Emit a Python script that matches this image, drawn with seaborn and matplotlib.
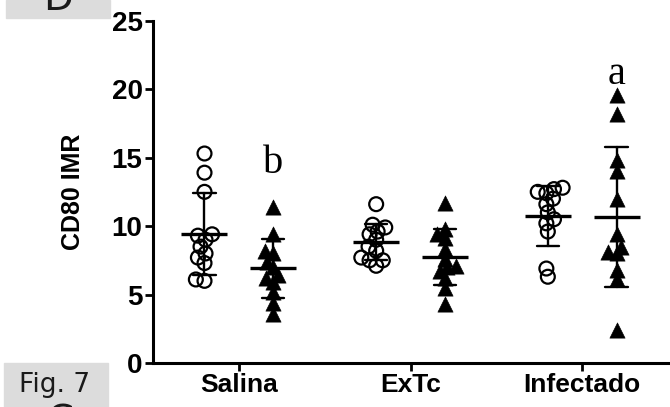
import numpy as np
import pandas as pd
import matplotlib
matplotlib.use("Agg")
import matplotlib.pyplot as plt
import seaborn as sns
from matplotlib.patches import Rectangle

# ---------------- data ----------------
categories = ["Salina", "ExTc", "Infectado"]
series_names = ["open", "filled"]

salina_open = [15.3, 13.9, 12.5, 9.4, 9.3, 9.0, 8.5, 8.0, 7.7, 7.3, 6.0, 6.1]
salina_filled = [11.4, 9.4, 8.2, 8.0, 7.4, 7.0, 6.4, 6.2, 5.9, 5.2, 4.4, 3.6]
extc_open = [11.6, 10.1, 9.9, 9.6, 9.4, 9.0, 8.5, 8.2, 7.7, 7.5, 7.5, 7.1]
extc_filled = [11.7, 9.8, 9.4, 9.1, 8.3, 7.6, 7.1, 7.0, 6.7, 6.2, 5.5, 4.3]
infectado_open = [12.8, 12.7, 12.5, 12.4, 12.0, 11.6, 11.0, 10.5, 10.2, 9.6, 6.9, 6.3]
infectado_filled = [19.6, 18.2, 14.8, 14.0, 12.0, 9.4, 8.5, 8.1, 8.0, 6.8, 6.1, 2.4]

yticks = [0, 5, 10, 15, 20, 25]
ylabel = "CD80 IMR"
sig_letters = ["b", "", "a"]          # letters above the filled series
panel_label = "D"
fig_label = "Fig. 7"
next_label = "C"

# ---------------- table ----------------
values = {
    ("Salina", "open"): salina_open, ("Salina", "filled"): salina_filled,
    ("ExTc", "open"): extc_open, ("ExTc", "filled"): extc_filled,
    ("Infectado", "open"): infectado_open, ("Infectado", "filled"): infectado_filled,
}
rows = []
for (g, s), vals in values.items():
    for v in vals:
        rows.append({"group": g, "series": s, "value": v})
df = pd.DataFrame(rows)

# ---------------- figure ----------------
sns.set_style("ticks")
plt.rcParams["font.family"] = ["Liberation Sans", "DejaVu Sans"]
plt.rcParams.update({"text.color": "black", "axes.labelcolor": "black",
                     "xtick.color": "black", "ytick.color": "black",
                     "axes.edgecolor": "black"})
W, H = 670, 407
fig = plt.figure(figsize=(W / 100, H / 100), dpi=100)
ax = fig.add_axes([153 / W, 1 - 363 / H, 515 / W, (363 - 20.7) / H])

layout_size = 6.0     # marker size used for the swarm layout
shown_size = {"open": 10.0, "filled": 11.0}   # marker size displayed
markers = {"open": "o", "filled": "^"}
coll_groups = {}
for s in series_names:
    n0 = len(ax.collections)
    sns.swarmplot(data=df[df.series == s], x="group", y="value", hue="series",
                  hue_order=series_names, order=categories, dodge=True,
                  marker=markers[s], size=layout_size,
                  palette=["black", "black"], legend=False, ax=ax,
                  warn_thresh=1.0)
    coll_groups[s] = ax.collections[n0:]

ax.set_xlim(-0.5, 2.5)
ax.set_ylim(0, 25)
fig.canvas.draw()
for s, colls in coll_groups.items():
    for c in colls:
        if "draw" in c.__dict__:
            del c.draw
        c.set_sizes([shown_size[s] ** 2])
        if s == "open":
            c.set_facecolor("none")
            c.set_edgecolor("black")
            c.set_linewidth(1.6)
        else:
            c.set_facecolor("black")
            c.set_edgecolor("black")
            c.set_linewidth(0.4)

sns.pointplot(data=df, x="group", y="value", hue="series",
              hue_order=series_names, order=categories,
              estimator="mean", errorbar="sd", dodge=0.4,
              markers="_", linestyles="none", palette=["black", "black"],
              capsize=0.13, markersize=33, markeredgewidth=2.4,
              err_kws={"linewidth": 1.7, "linestyle": "-", "color": "black"},
              legend=False, ax=ax)

ax.set_xlim(-0.5, 2.5)
ax.set_ylim(0, 25)
ax.set_yticks(yticks)
ax.set_yticklabels([str(t) for t in yticks])
ax.tick_params(axis="y", length=6, width=2.0, labelsize=20, pad=1.5,
               color="black", labelcolor="black")
ax.tick_params(axis="x", length=6, width=2.0, labelsize=19, pad=1.5,
               color="black", labelcolor="black")
for lab in ax.get_xticklabels() + ax.get_yticklabels():
    lab.set_fontweight("bold")
ax.set_xlabel("")
ax.set_ylabel(ylabel, fontsize=18, fontweight="bold", labelpad=19, color="black")
sns.despine(ax=ax)
for sp in ["left", "bottom"]:
    ax.spines[sp].set_linewidth(2.2)
    ax.spines[sp].set_color("black")

# significance letters above the filled series
letter_y = [13.9, None, 20.4]
for i, (lt, yv) in enumerate(zip(sig_letters, letter_y)):
    if lt:
        ax.text(i + 0.2, yv, lt, family=["Liberation Serif", "DejaVu Serif"],
                fontsize=29, ha="center", va="baseline", color="black")

# page artefacts: grey label boxes (cut by the page edge, as in the reference)
fig.patches.append(Rectangle((6 / W, 1 - 18 / H), 104 / W, 18 / H,
                             transform=fig.transFigure, color="#dcdcdc", zorder=0))
fig.text(58 / W, 1 - 10 / H, panel_label, family="DejaVu Sans", fontsize=28,
         ha="center", va="baseline", color="#1a1a1a")
fig.patches.append(Rectangle((4 / W, 0), 104 / W, 44 / H,
                             transform=fig.transFigure, color="#dcdcdc", zorder=0))
fig.text(19 / W, (H - 392) / H, fig_label, family="DejaVu Sans", fontsize=19,
         ha="left", va="baseline", color="#1a1a1a")
fig.text(60 / W, (H - 433) / H, next_label, family="DejaVu Sans", fontsize=28,
         ha="center", va="baseline", color="#1a1a1a")

fig.savefig("out.png", dpi=100)
